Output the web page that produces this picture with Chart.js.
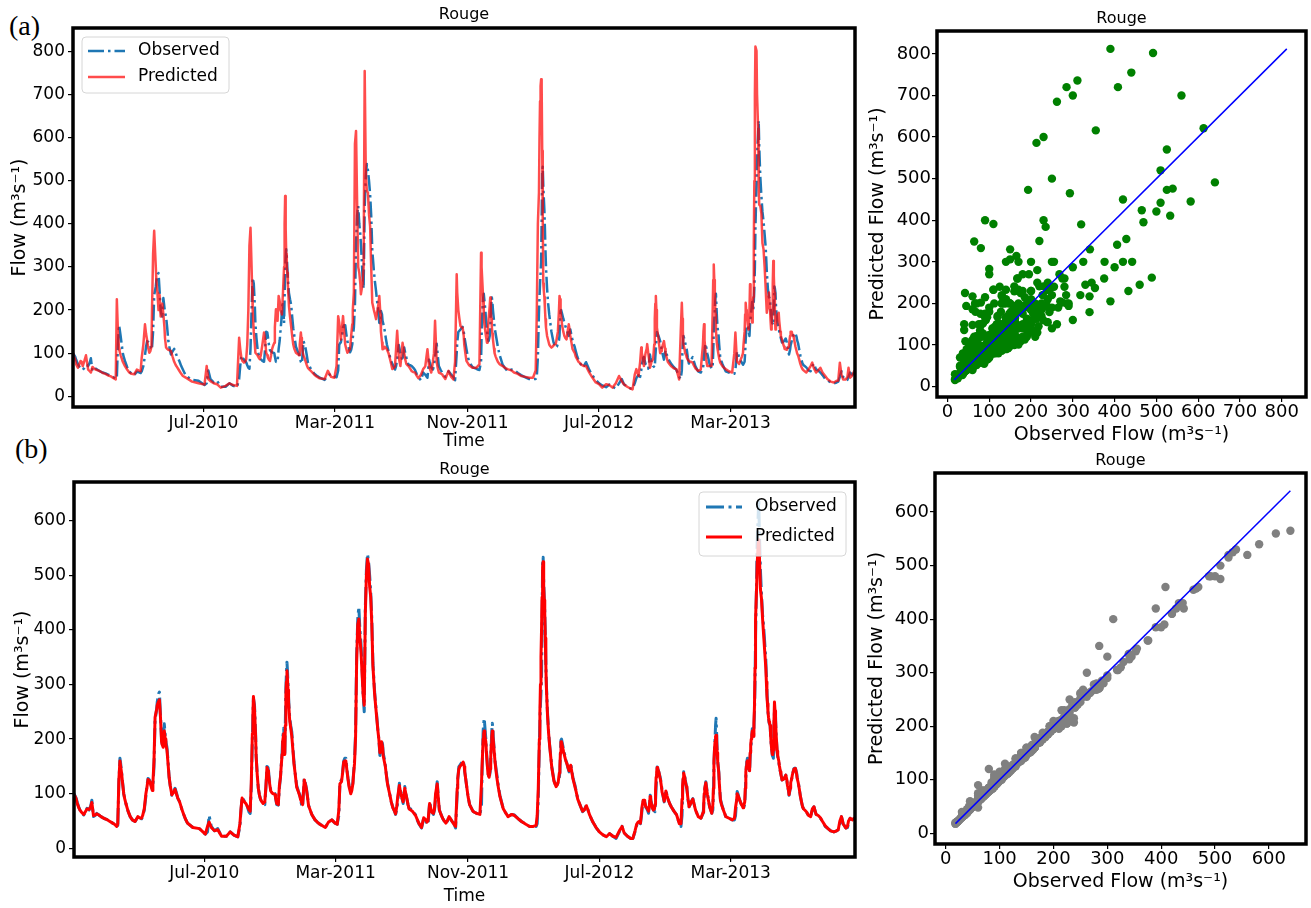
<!DOCTYPE html>
<html><head><meta charset="utf-8">
<script src="https://cdn.jsdelivr.net/npm/chart.js@4.4.1/dist/chart.umd.min.js"></script>
<style>
html,body{margin:0;padding:0;background:#fff;}
body{width:1311px;height:908px;position:relative;overflow:hidden;}
canvas{position:absolute;}
.tag{position:absolute;font-family:"Liberation Serif","Times New Roman",serif;font-size:28px;color:#000;line-height:1;}
</style></head><body>
<div class="tag" style="left:9px;top:12px;">(a)</div>
<div class="tag" style="left:15px;top:435px;">(b)</div>
<canvas id="tsA" width="870" height="455" style="left:0;top:0"></canvas>
<canvas id="tsB" width="870" height="453" style="left:0;top:455px"></canvas>
<canvas id="scA" width="451" height="450" style="left:860px;top:0"></canvas>
<canvas id="scB" width="451" height="458" style="left:860px;top:450px"></canvas>
<script>
// ---------- DATA ----------
const START_DATE = '2009-11-02';   // day 0 of the record
const END_DAY = 1445;
// days since START_DATE (main readings, then extra daily readings; sorted before drawing)
const days = [
0,4,9,14,18,24,28,33,36,42,
50,60,70,79,81,83,85,88,92,96,
104,113,118,125,130,133,137,141,145,148,
150,153,156,158,160,162,165,167,169,172,
176,181,187,192,197,203,210,220,232,243,
247,250,254,260,266,273,282,289,296,303,
307,311,316,320,324,326,328,330,332,334,
337,341,345,350,353,357,360,364,368,372,
375,378,380,383,386,388,390,392,394,396,
399,403,407,412,418,421,423,426,430,434,
440,446,455,465,471,477,483,487,490,492,
495,499,503,507,512,516,519,521,523,525,
527,529,532,535,537,539,541,543,545,547,
549,551,553,556,560,564,566,569,572,576,
580,585,590,595,599,602,605,609,612,616,
620,626,632,638,643,647,651,655,658,662,
667,669,672,676,682,688,694,699,703,706,
709,712,716,720,723,727,732,738,745,751,
754,757,759,762,765,768,771,774,776,779,
783,788,794,803,810,815,822,828,836,843,
850,855,857,859,861,863,865,866,867,868,
869,871,873,876,880,884,888,892,896,899,
901,904,908,912,916,919,923,927,932,936,
941,948,954,960,966,972,978,985,991,997,
1003,1009,1014,1018,1024,1030,1034,1038,1041,1045,
1048,1050,1053,1055,1058,1061,1063,1066,1069,1072,
1075,1077,1079,1082,1085,1088,1092,1095,1099,1105,
1110,1115,1120,1123,1125,1128,1131,1134,1138,1142,
1145,1150,1155,1160,1164,1166,1169,1172,1176,1180,
1182,1184,1186,1188,1190,1193,1196,1200,1206,1212,
1218,1222,1224,1227,1231,1234,1238,1241,1243,1246,
1248,1250,1251,1253,1255,1257,1259,1261,1263,1264,
1266,1267,1268,1270,1272,1274,1276,1278,1280,1282,
1284,1286,1288,1290,1292,1294,1296,1298,1301,1304,
1307,1310,1314,1317,1320,1323,1326,1329,1332,1335,
1338,1340,1344,1348,1352,1355,1359,1363,1366,1369,
1373,1377,1381,1385,1390,1394,1400,1406,1411,1414,
1417,1420,1423,1428,1431,1433,1436,1440,1444,
/*A*/ 2,6,11,16,21,26,31,39,46,55,65,75,
/*B*/ 86,90,94,100,108,121,127,135,139,143,146,154,157,163,170,174,178,184,190,195,200,206,
/*C*/ 309,313,318,322,331,336,339,343,347,355,359,362,366,370,373,
/*D*/ 382,385,389,391,393,395,397,401,405,409,415,419,422,424,428,432,437,443,450,
/*E*/ 494,497,501,505,509,514,517,531,533,558,562,568,571,574,578,583,587,593,597,
/*F*/ 614,618,623,629,635,649,653,660,665,674,679,685,691,696,
/*G*/ 710,714,718,722,725,729,735,741,748,
/*H*/ 755,758,760,763,766,770,772,773,775,778,781,785,791,798,
/*I*/ 862,864,870,872,874,878,882,886,890,894,898,900,902,906,910,914,917,921,925,929,934,938,944,951,
/*J*/ 1043,1051,1054,1056,1060,1065,1067,1070,1074,1076,1078,1080,1084,1087,1090,1094,1097,1102,
/*K*/ 1126,1127,1130,1133,1136,1140,1147,
/*L*/ 1165,1167,1170,1174,1183,1185,1187,1189,1191,1194,1198,1203,
/*M*/ 1226,1229,1236,1239,1242,1244,1245,1247,1249,1252,1254,1256,1258,1260,
/*N*/ 1281,1283,1285,1287,1289,1291,1293,1295,1297,1299,1302,1305,1308,1312,1315,1319,1322,1325,1328,1331,1334,1337,1342,1346,1350
];
const observed = [
100,92,75,65,61,73,70,88,58,64,
58,53,47,40,42,120,165,140,100,82,
58,49,57,54,70,95,128,122,108,150,
235,255,280,286,245,200,185,228,205,185,
130,97,110,92,80,62,46,38,36,26,
30,60,40,32,36,22,22,30,24,21,
40,94,85,79,66,64,110,200,275,262,
170,110,90,82,80,150,140,107,102,100,
80,79,110,146,200,220,170,293,341,300,
240,213,158,115,97,80,76,128,110,79,
62,52,44,38,48,52,46,44,60,120,
125,160,165,128,102,120,160,213,355,420,
442,400,353,280,250,440,510,539,525,500,
469,420,340,290,244,200,170,198,175,152,
120,95,75,62,85,119,100,82,113,90,
73,70,61,45,37,55,50,43,85,67,
70,90,122,70,55,45,58,50,45,37,
100,149,155,161,140,110,80,68,64,61,
80,215,238,200,150,128,160,229,200,160,
130,97,73,58,62,61,54,49,44,40,
40,40,45,90,193,262,311,408,525,533,
489,433,340,250,190,150,125,113,122,140,
198,190,171,155,140,155,130,115,91,80,
67,79,61,48,38,30,25,21,27,22,
18,30,40,28,22,18,18,30,42,49,
45,60,85,91,75,70,64,97,80,70,
67,110,149,140,128,105,85,107,90,76,
68,61,45,40,60,140,125,110,76,85,
91,70,58,55,64,90,122,100,76,64,
70,150,200,238,180,140,90,75,58,55,
52,52,60,104,90,82,73,80,130,165,
155,140,167,193,219,200,250,390,492,560,
613,640,582,510,465,428,406,376,345,290,
250,230,225,190,170,165,255,240,175,158,
140,125,128,134,115,97,118,134,146,146,
130,122,95,76,70,67,60,58,70,76,
62,60,55,49,40,37,32,30,32,34,
45,58,45,37,38,45,55,50,55,
/*A*/ 96,84,70,63,66,72,78,60,61,55,50,44,
/*B*/ 158,120,90,68,52,56,58,115,126,115,112,268,284,192,195,160,115,104,100,86,70,54,
/*C*/ 70,90,82,72,240,210,135,98,86,110,148,120,104,101,92,
/*D*/ 130,175,195,230,320,325,275,225,185,140,105,90,78,95,120,95,70,57,48,
/*E*/ 124,140,165,145,115,108,135,375,330,265,220,185,190,165,135,105,85,68,70,
/*F*/ 100,80,72,66,52,52,46,75,62,95,62,50,50,55,
/*G*/ 125,152,158,150,125,95,74,66,62,
/*H*/ 140,228,225,180,138,140,190,215,218,175,145,115,85,66,
/*I*/ 230,285,460,390,300,215,170,137,118,115,130,175,200,180,162,147,145,142,122,105,85,75,70,70,
/*J*/ 46,72,90,85,72,85,90,75,68,90,130,146,132,115,95,100,98,82,
/*K*/ 100,125,132,115,90,80,82,
/*L*/ 75,108,115,88,100,180,225,210,160,120,82,66,
/*M*/ 90,98,78,75,100,150,160,162,148,180,205,210,220,300,
/*N*/ 318,270,240,228,205,180,168,215,250,210,168,150,135,126,130,125,105,108,128,142,147,138,108,85,72
];
// (a) first model
const predictedA = [
100,85,66,82,70,95,62,55,68,62,
58,52,46,39,225,150,110,95,80,70,
55,51,62,58,120,167,130,101,115,330,
384,300,240,200,235,185,215,190,160,113,
108,105,80,68,58,47,42,34,30,27,
70,40,35,30,28,20,24,30,26,24,
136,90,78,86,200,349,391,300,202,150,
101,95,86,120,148,101,90,82,110,124,
202,175,233,202,190,241,300,465,330,287,
210,163,120,101,95,148,120,94,80,66,
58,50,42,40,59,45,43,70,186,170,
132,186,120,101,110,167,241,586,616,450,
300,287,237,260,300,755,520,476,473,421,
395,300,217,200,179,210,233,150,109,115,
109,90,63,70,152,90,70,124,100,75,
70,58,55,42,50,63,70,109,70,55,
100,175,80,55,51,40,59,45,39,80,
283,200,163,159,120,82,72,66,66,74,
333,250,194,150,124,180,229,160,132,100,
86,75,70,63,60,55,52,47,45,43,
43,60,194,400,473,685,736,720,570,411,
262,230,179,140,120,113,118,121,150,233,
200,163,140,132,167,140,110,101,85,78,
72,70,55,43,32,28,20,28,26,20,
30,47,35,28,22,18,16,50,63,47,
80,113,90,70,100,121,100,66,80,86,
180,233,160,132,100,110,128,100,80,70,
65,63,39,150,217,120,101,90,82,80,
78,65,59,62,120,167,100,70,70,70,
200,306,230,155,120,95,78,70,63,58,
55,100,148,80,75,86,100,150,217,180,
155,200,260,200,171,230,500,812,802,700,
621,491,445,442,424,355,341,300,250,194,
220,241,200,155,200,314,240,155,180,194,
150,132,115,109,110,120,150,145,135,115,
100,94,75,63,58,55,62,70,78,65,
55,60,66,55,47,40,34,32,36,36,
78,50,39,39,45,66,43,48,60,
/*A*/ 92,74,72,80,82,78,58,64,60,54,48,42,
/*B*/ 105,88,75,62,52,60,90,145,112,105,200,270,220,200,135,110,107,92,72,62,52,45,
/*C*/ 110,82,80,120,250,120,98,90,95,130,95,85,95,118,160,
/*D*/ 220,195,270,400,390,300,260,185,140,110,98,120,135,105,88,72,62,54,46,
/*E*/ 145,160,150,110,104,140,200,260,245,190,195,190,125,110,112,100,80,66,110,
/*F*/ 85,72,64,56,48,66,90,62,80,65,53,45,50,52,
/*G*/ 240,180,160,140,100,78,69,66,70,
/*H*/ 300,220,170,140,140,210,200,180,145,110,92,80,72,66,
/*I*/ 600,720,245,205,160,130,116,115,120,135,200,225,185,150,135,150,160,125,105,92,80,75,70,62,
/*J*/ 55,100,80,85,110,80,70,82,120,215,200,150,110,105,120,110,90,75,
/*K*/ 180,150,110,95,85,80,72,
/*L*/ 150,130,85,70,270,270,190,135,110,88,74,66,
/*M*/ 100,78,92,120,190,200,190,165,175,230,185,200,350,700,
/*N*/ 220,205,232,220,175,175,260,280,190,165,188,175,140,122,110,108,115,140,150,140,122,105,85,68,60
];
// (b) second model
const predictedB = [
98,90,74,66,62,72,71,84,60,63,
58,53,47,40,45,125,160,138,100,82,
58,49,58,55,72,100,126,120,106,160,
240,255,268,272,240,195,185,215,200,180,
130,98,108,92,80,62,46,38,36,26,
40,48,38,32,34,22,22,30,24,21,
45,92,84,78,70,68,120,210,278,255,
168,110,90,82,85,148,135,105,100,98,
82,80,115,145,195,210,172,280,325,290,
235,205,155,112,95,85,80,125,108,78,
62,52,44,38,48,52,46,44,70,118,
122,158,160,126,100,118,155,205,345,410,
420,385,340,280,262,430,500,530,520,480,
460,410,335,285,240,200,175,195,170,150,
118,95,74,63,95,115,98,85,110,90,
72,68,60,46,38,56,52,50,82,66,
72,100,118,70,55,46,58,50,44,40,
110,145,152,158,140,110,80,68,64,62,
120,200,215,195,148,130,165,215,195,158,
125,95,73,58,62,60,54,49,44,40,
40,42,60,110,200,300,400,460,515,525,
480,430,335,245,188,148,123,113,122,150,
195,185,168,155,142,152,128,112,90,80,
68,78,61,48,38,30,25,21,27,22,
20,32,40,28,22,18,18,32,44,49,
46,65,88,88,76,72,68,95,78,70,
80,130,148,140,126,103,86,105,90,76,
68,61,45,45,90,138,122,108,76,85,
90,70,58,55,66,100,120,98,76,64,
80,160,195,207,175,138,88,74,58,55,
52,55,75,100,90,82,74,85,140,160,
150,142,175,200,215,205,260,420,480,520,
560,565,540,475,457,420,390,360,330,280,
250,232,225,190,172,180,268,235,178,160,
140,125,128,134,115,98,120,134,145,145,
128,120,95,76,70,67,60,58,72,76,
62,60,56,49,41,37,32,30,32,34,
50,58,45,37,40,50,55,52,56,
/*A*/ 95,82,70,64,67,72,76,61,61,55,50,44,
/*B*/ 152,118,90,68,52,56,60,112,124,112,120,262,270,190,190,155,115,102,98,86,70,54,
/*C*/ 72,88,82,74,245,205,135,98,86,112,142,118,102,100,92,
/*D*/ 130,172,190,225,305,310,268,220,180,138,104,90,82,95,118,94,70,57,48,
/*E*/ 121,138,160,142,112,106,132,360,320,262,218,182,185,160,133,104,85,68,75,
/*F*/ 100,80,70,64,53,54,48,74,64,92,62,50,51,55,
/*G*/ 128,150,155,150,125,95,74,66,63,
/*H*/ 150,210,205,176,136,145,190,205,205,170,140,112,84,66,
/*I*/ 250,350,455,385,295,212,168,135,118,116,138,175,195,176,160,148,146,140,120,104,85,75,70,70,
/*J*/ 47,76,88,84,74,82,88,74,72,105,140,145,130,112,96,98,97,82,
/*K*/ 115,128,130,113,90,80,82,
/*L*/ 80,110,112,87,110,180,205,195,158,118,80,66,
/*M*/ 88,96,78,77,110,150,158,156,146,188,208,210,230,330,
/*N*/ 305,265,240,228,205,180,175,230,252,210,170,152,135,126,130,125,106,110,128,142,146,136,108,85,72
];
const tickDates  = ['2010-07-01','2011-03-01','2011-11-01','2012-07-01','2013-03-01'];
const tickLabels = ['Jul-2010','Mar-2011','Nov-2011','Jul-2012','Mar-2013'];
const flowTicksA = [0,100,200,300,400,500,600,700,800];
const flowTicksB = [0,100,200,300,400,500,600];
const scatTicksA = [0,100,200,300,400,500,600,700,800];
const scatTicksB = [0,100,200,300,400,500,600];
const riverName = 'Rouge';
// -----------------------------------------------------

if (!(days.length === observed.length && days.length === predictedA.length && days.length === predictedB.length)) {
  console.error('length mismatch', days.length, observed.length, predictedA.length, predictedB.length);
}
// chronological order of the readings
const order = days.map((d, i) => i).sort((a, b) => days[a] - days[b]);

Chart.defaults.font.family = '"DejaVu Sans", sans-serif';
Chart.defaults.color = '#000';

const dayOf = s => (Date.parse(s) - Date.parse(START_DATE)) / 86400000;
const SUP = '(m\u00B3s\u207B\u00B9)';

const panelDecor = {
  id: 'panelDecor',
  afterDraw(chart, args, o) {
    const ctx = chart.ctx, a = chart.chartArea;
    ctx.save();
    ctx.strokeStyle = '#000'; ctx.lineWidth = 3.5;
    ctx.strokeRect(a.left, a.top, a.right - a.left, a.bottom - a.top);
    ctx.fillStyle = '#000';
    ctx.font = '16px "DejaVu Sans"';
    ctx.textAlign = 'center'; ctx.textBaseline = 'middle';
    ctx.fillText(o.title, (a.left + a.right) / 2, o.titleY);
    if (o.legend) {
      const L = o.legend;
      ctx.beginPath();
      if (ctx.roundRect) ctx.roundRect(L.x, L.y, L.w, L.h, 4); else ctx.rect(L.x, L.y, L.w, L.h);
      ctx.fillStyle = 'rgba(255,255,255,0.8)'; ctx.fill();
      ctx.strokeStyle = '#d6d6d6'; ctx.lineWidth = 1; ctx.stroke();
      chart.data.datasets.forEach((ds, i) => {
        const y = L.rows[i];
        ctx.beginPath();
        ctx.setLineDash(ds.borderDash || []);
        ctx.strokeStyle = ds.borderColor; ctx.lineWidth = ds.borderWidth;
        ctx.moveTo(L.x0, y); ctx.lineTo(L.x1, y); ctx.stroke();
        ctx.setLineDash([]);
        ctx.fillStyle = '#000'; ctx.font = '17px "DejaVu Sans"';
        ctx.textAlign = 'left'; ctx.textBaseline = 'middle';
        ctx.fillText(ds.label, L.tx, y);
      });
    }
    ctx.restore();
  }
};

const tickGrid = {display: true, drawOnChartArea: false, drawTicks: true, tickLength: 5, color: '#000', lineWidth: 1.2};

function tsChart(id, pred, c) {
  return new Chart(document.getElementById(id), {
    type: 'line',
    data: {datasets: [
      {label: 'Observed', data: order.map(i => ({x: days[i], y: observed[i]})),
       borderColor: '#1f77b4', borderWidth: c.obsW, borderDash: c.dash, pointRadius: 0, tension: 0,
       borderJoinStyle: 'round', order: 1},
      {label: 'Predicted', data: order.map(i => ({x: days[i], y: pred[i]})),
       borderColor: c.predColor, borderWidth: c.predW, pointRadius: 0, tension: 0,
       borderJoinStyle: 'round', order: 0}
    ]},
    options: {
      responsive: false, animation: false, events: [], devicePixelRatio: 1,
      layout: {padding: c.pad},
      scales: {
        x: {type: 'linear', min: 0, max: END_DAY,
            afterFit: s => { s.height = c.xH; },
            afterBuildTicks: s => { s.ticks = tickDates.map(t => ({value: dayOf(t)})); },
            ticks: {callback: (v, i) => tickLabels[i], autoSkip: false, maxRotation: 0, padding: 1, font: {size: 17}, color: '#000'},
            grid: tickGrid, border: {display: false},
            title: {display: true, text: 'Time', font: {size: 17}, color: '#000', padding: {top: 0, bottom: c.xTP}}},
        y: {type: 'linear', min: c.yMin, max: c.yMax,
            afterFit: s => { s.width = c.yW; },
            afterBuildTicks: s => { s.ticks = c.yTicks.map(v => ({value: v})); },
            ticks: {font: {size: 17}, color: '#000', padding: 3},
            grid: tickGrid, border: {display: false},
            title: {display: true, text: 'Flow ' + SUP, font: {size: 19}, color: '#000', padding: {top: c.yTP, bottom: 0}}}
      },
      plugins: {legend: {display: false}, tooltip: {enabled: false},
        panelDecor: {title: riverName, titleY: c.titleY, legend: c.legend}}
    },
    plugins: [panelDecor]
  });
}

function scatterChart(id, pred, c) {
  const all = observed.concat(pred);
  const lo = Math.min(...all), hi = Math.max(...all);
  return new Chart(document.getElementById(id), {
    type: 'scatter',
    data: {datasets: [
      {label: 'points', data: observed.map((o, i) => ({x: o, y: pred[i]})),
       backgroundColor: c.color, borderWidth: 0, pointRadius: 4.2, order: 1},
      {label: '1:1', type: 'line', data: [{x: lo, y: lo}, {x: hi, y: hi}], showLine: true,
       borderColor: '#0000ff', borderWidth: 1.5, pointRadius: 0, fill: false, order: 0}
    ]},
    options: {
      responsive: false, animation: false, events: [], devicePixelRatio: 1,
      layout: {padding: c.pad},
      scales: {
        x: {type: 'linear', min: c.xMin, max: c.xMax,
            afterFit: s => { s.height = c.xH; },
            afterBuildTicks: s => { s.ticks = c.ticks.map(v => ({value: v})); },
            ticks: {font: {size: 18}, color: '#000', padding: 0, maxRotation: 0, autoSkip: false},
            grid: tickGrid, border: {display: false},
            title: {display: true, text: 'Observed Flow ' + SUP, font: {size: 19}, color: '#000', padding: {top: 0, bottom: c.xTP}}},
        y: {type: 'linear', min: c.yMin, max: c.yMax,
            afterFit: s => { s.width = c.yW; },
            afterBuildTicks: s => { s.ticks = c.ticks.map(v => ({value: v})); },
            ticks: {font: {size: 18}, color: '#000', padding: 1},
            grid: tickGrid, border: {display: false},
            title: {display: true, text: 'Predicted Flow ' + SUP, font: {size: 19}, color: '#000', padding: {top: c.yTP, bottom: 0}}}
      },
      plugins: {legend: {display: false}, tooltip: {enabled: false},
        panelDecor: {title: riverName, titleY: c.titleY}}
    },
    plugins: [panelDecor]
  });
}

tsChart('tsA', predictedA, {
  obsW: 2.5, dash: [16, 4, 2.5, 4], predColor: 'rgba(255,0,0,0.7)', predW: 2.5,
  pad: {left: 0, top: 28, right: 15, bottom: 0}, xH: 48, yW: 73, xTP: 3, yTP: 8.6,
  yMin: -25, yMax: 855, yTicks: flowTicksA, titleY: 15,
  legend: {x: 82, y: 37, w: 147, h: 56, x0: 88, x1: 125, tx: 138, rows: [51, 77]}
});
tsChart('tsB', predictedB, {
  obsW: 3, dash: [18, 4.5, 3, 4.5], predColor: '#ff0000', predW: 3,
  pad: {left: 0, top: 27, right: 15, bottom: 0}, xH: 51, yW: 74, xTP: 1, yTP: 11.6,
  yMin: -16, yMax: 671, yTicks: flowTicksB, titleY: 15,
  legend: {x: 699, y: 37, w: 147, h: 64, x0: 706, x1: 742, tx: 755, rows: [52, 82]}
});
scatterChart('scA', predictedA, {
  color: '#008000', pad: {left: 0, top: 31, right: 5, bottom: 0}, xH: 53, yW: 77, xTP: 3.6, yTP: 6.6,
  xMin: -25, xMax: 858, yMin: -25, yMax: 855, ticks: scatTicksA, titleY: 19
});
scatterChart('scB', predictedB, {
  color: '#808080', pad: {left: 0, top: 23, right: 5, bottom: 0}, xH: 64, yW: 75, xTP: 14.6, yTP: 5.6,
  xMin: -20, xMax: 669, yMin: -20, yMax: 673, ticks: scatTicksB, titleY: 11
});
</script>
</body></html>
